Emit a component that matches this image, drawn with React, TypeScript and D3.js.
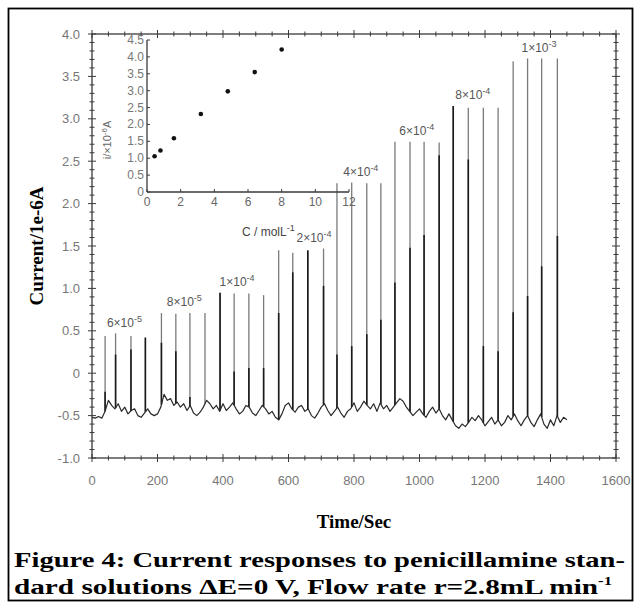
import React from "react";
import * as d3 from "d3";

// ---------- data ----------
const xTickValues = [0, 200, 400, 600, 800, 1000, 1200, 1400, 1600];
const yTickValues = [-1, -0.5, 0, 0.5, 1, 1.5, 2, 2.5, 3, 3.5, 4];
const yTickLabels = ["-1.0", "-0.5", "0", "0.5", "1.0", "1.5", "2.0", "2.5", "3.0", "3.5", "4.0"];

const peakTimes = [40, 72, 119, 163, 212, 256, 299, 345, 391, 434, 479, 524, 570, 613, 659, 707,
  748, 793, 839, 882, 925, 971, 1014, 1060, 1103, 1149, 1195, 1240, 1286, 1330, 1373, 1421];
const peakTops = [0.44, 0.47, 0.44, 0.42, 0.71, 0.70, 0.71, 0.71, 0.95, 0.94, 0.94, 0.92,
  1.45, 1.42, 1.44, 1.47, 2.24, 2.25, 2.24, 2.24, 2.73, 2.73, 2.73, 2.72,
  3.15, 3.13, 3.13, 3.13, 3.68, 3.71, 3.71, 3.71];
const peakShoulders = [-0.22, 0.22, 0.28, 0.42, 0.36, 0.26, -0.28, -0.36, 0.95, 0.02, 0.06, 0.06,
  0.71, 1.19, 1.45, 1.03, 0.22, 0.32, 0.46, 0.63, 1.07, 1.48, 1.63, 2.57,
  3.15, 2.52, 0.32, 0.26, 0.72, 0.91, 1.26, 1.62];

const baselineStart = 0;
const baselineStep = 10;
const baselineValues = [
  -0.52, -0.53, -0.51, -0.53, -0.45, -0.32, -0.38, -0.42, -0.36, -0.45,
  -0.40, -0.48, -0.44, -0.42, -0.50, -0.52, -0.47, -0.42, -0.48, -0.50,
  -0.48, -0.40, -0.25, -0.32, -0.30, -0.38, -0.34, -0.40, -0.36, -0.44,
  -0.38, -0.47, -0.50, -0.46, -0.40, -0.32, -0.36, -0.42, -0.38, -0.45,
  -0.36, -0.44, -0.40, -0.35, -0.42, -0.48, -0.45, -0.38, -0.40, -0.47,
  -0.50, -0.44, -0.38, -0.42, -0.48, -0.45, -0.52, -0.55, -0.48, -0.38,
  -0.35, -0.42, -0.46, -0.40, -0.38, -0.45, -0.42, -0.50, -0.53, -0.47,
  -0.40, -0.36, -0.44, -0.50, -0.45, -0.40, -0.47, -0.52, -0.45, -0.42,
  -0.35, -0.45, -0.40, -0.33, -0.38, -0.42, -0.36, -0.45, -0.35, -0.42,
  -0.38, -0.45, -0.40, -0.35, -0.30, -0.33, -0.40, -0.45, -0.50, -0.46,
  -0.42, -0.48, -0.52, -0.45, -0.40, -0.47, -0.42, -0.50, -0.55, -0.48,
  -0.55, -0.62, -0.65, -0.60, -0.63, -0.58, -0.52, -0.56, -0.50, -0.55,
  -0.62, -0.57, -0.52, -0.60, -0.55, -0.62, -0.58, -0.50, -0.55, -0.48,
  -0.56, -0.62, -0.55, -0.50, -0.58, -0.63, -0.55, -0.48, -0.60, -0.65,
  -0.55, -0.62, -0.50, -0.58, -0.52, -0.55,
];

const groupSize = 4;
const groupLabelBase = ["6×10", "8×10", "1×10", "2×10", "4×10", "6×10", "8×10", "1×10"];
const groupLabelExp = ["-5", "-5", "-4", "-4", "-4", "-4", "-4", "-3"];
const groupLabelTimes = [99, 282, 443, 678, 821, 992, 1163, 1365];

const insetX = [0.45, 0.8, 1.6, 3.2, 4.8, 6.4, 8.0];
const insetY = [1.06, 1.23, 1.59, 2.31, 2.98, 3.55, 4.22];
const insetXTicks = [0, 2, 4, 6, 8, 10, 12];
const insetYTicks = [0, 0.5, 1, 1.5, 2, 2.5, 3, 3.5, 4, 4.5];
const insetYTickLabels = ["0", "0.5", "1.0", "1.5", "2.0", "2.5", "3.0", "3.5", "4.0", "4.5"];

// ---------- component ----------
export default function App() {
  const W = 637, H = 604;
  const x = d3.scaleLinear().domain([0, 1600]).range([92, 616]);
  const y = d3.scaleLinear().domain([-1, 4]).range([458, 34]);
  const ix = d3.scaleLinear().domain([0, 12]).range([147, 349]);
  const iy = d3.scaleLinear().domain([0, 4.5]).range([192, 40]);

  const baseTimes = baselineValues.map((_, i) => baselineStart + i * baselineStep);
  const baseAt = (t: number) => {
    const i = Math.min(Math.max(d3.bisectRight(baseTimes, t) - 1, 0), baseTimes.length - 2);
    const t0 = baseTimes[i], t1 = baseTimes[i + 1];
    const f = (t - t0) / (t1 - t0);
    return baselineValues[i] + f * (baselineValues[i + 1] - baselineValues[i]);
  };

  const basePts: [number, number][] = baseTimes.map((t, i) => [t, baselineValues[i]]);
  const line = d3.line<[number, number]>().x((d) => x(d[0])).y((d) => y(d[1]));

  const xMinor = d3.range(0, 1601, 50);
  const yMinor = d3.range(-1, 4.0001, 0.1);

  const axisColor = "#3a3a3a";
  const tickColor = "#777";
  const sans = "'Liberation Sans', Arial, sans-serif";
  const serif = "'Liberation Serif', 'Times New Roman', serif";

  const groups = groupLabelBase.map((_, g) => {
    const tops = peakTops.slice(g * groupSize, g * groupSize + groupSize);
    return { base: groupLabelBase[g], exp: groupLabelExp[g], t: groupLabelTimes[g], v: (d3.max(tops) as number) + 0.08 };
  });

  return (
    <svg width={W} height={H} style={{ position: "absolute", left: 0, top: 0, background: "#fff" }}>
      <rect x={0} y={0} width={W} height={H} fill="#fff" />
      <rect x={8.5} y={8.5} width={624} height={592} fill="none" stroke="#000" strokeWidth={1.8} />

      {/* main frame */}
      <rect x={x(0)} y={y(4)} width={x(1600) - x(0)} height={y(-1) - y(4)} fill="none" stroke={axisColor} strokeWidth={1.3} />

      {xMinor.map((t) => {
        const major = t % 200 === 0;
        const l = major ? 4 : 2.5;
        return (
          <g key={"xt" + t} stroke={axisColor} strokeWidth={1}>
            <line x1={x(t)} x2={x(t)} y1={y(-1) - l} y2={y(-1) + l} />
            <line x1={x(t)} x2={x(t)} y1={y(4) - l} y2={y(4) + l} />
          </g>
        );
      })}
      {yMinor.map((v, i) => {
        const major = i % 5 === 0;
        const l = major ? 4 : 2.5;
        return (
          <g key={"yt" + i} stroke={axisColor} strokeWidth={1}>
            <line x1={x(0) - l} x2={x(0) + l} y1={y(v)} y2={y(v)} />
            <line x1={x(1600) - l} x2={x(1600) + l} y1={y(v)} y2={y(v)} />
          </g>
        );
      })}

      {xTickValues.map((t) => (
        <text key={"xl" + t} x={x(t)} y={485} textAnchor="middle" fontFamily={sans} fontSize={13} fill={tickColor}>
          {t}
        </text>
      ))}
      {yTickValues.map((v, i) => (
        <text key={"yl" + i} x={80} y={y(v) + 4.5} textAnchor="end" fontFamily={sans} fontSize={13} fill={tickColor}>
          {yTickLabels[i]}
        </text>
      ))}

      {/* trace: spikes (thin grey), baseline (dark), slow return segments (dark) */}
      {peakTimes.map((p, i) => (
        <line key={"sp" + i} x1={x(p)} x2={x(p)} y1={y(baseAt(p))} y2={y(peakTops[i])} stroke="#7a7a7a" strokeWidth={1.3} />
      ))}
      {peakTimes.map((p, i) =>
        peakShoulders[i] > baseAt(p) ? (
          <line key={"sh" + i} x1={x(p)} x2={x(p)} y1={y(baseAt(p))} y2={y(peakShoulders[i])} stroke="#1a1a1a" strokeWidth={1.6} />
        ) : null
      )}
      <path d={line(basePts) || ""} fill="none" stroke="#2a2a2a" strokeWidth={1.2} strokeLinejoin="round" />

      {groups.map((g, i) => (
        <text key={"gl" + i} x={x(g.t)} y={y(g.v)} textAnchor="middle" fontFamily={sans} fontSize={12} fill="#555">
          {g.base}
          <tspan fontSize={9} dy={-5}>{g.exp}</tspan>
        </text>
      ))}

      {/* inset */}
      <g>
        <line x1={ix(0)} x2={ix(12)} y1={iy(0)} y2={iy(0)} stroke={axisColor} strokeWidth={1.3} />
        <line x1={ix(0)} x2={ix(0)} y1={iy(0)} y2={iy(4.5)} stroke={axisColor} strokeWidth={1.3} />
        {insetXTicks.map((t) => (
          <g key={"ixt" + t}>
            <line x1={ix(t)} x2={ix(t)} y1={iy(0)} y2={iy(0) - 3} stroke={axisColor} strokeWidth={1} />
            <text x={ix(t)} y={iy(0) + 14} textAnchor="middle" fontFamily={sans} fontSize={12} fill="#666">{t}</text>
          </g>
        ))}
        {insetYTicks.map((v, i) => (
          <g key={"iyt" + i}>
            <line x1={ix(0)} x2={ix(0) + 3} y1={iy(v)} y2={iy(v)} stroke={axisColor} strokeWidth={1} />
            <text x={ix(0) - 3} y={iy(v) + 4} textAnchor="end" fontFamily={sans} fontSize={12} fill="#777">{insetYTickLabels[i]}</text>
          </g>
        ))}
        {insetX.map((c, i) => (
          <circle key={"ip" + i} cx={ix(c)} cy={iy(insetY[i])} r={2.3} fill="#111" />
        ))}
        <text x={242} y={236} fontFamily={sans} fontSize={12} fill="#444">
          C / molL<tspan fontSize={9} dy={-5}>-1</tspan>
        </text>
        <text transform="translate(111,140) rotate(-90)" textAnchor="middle" fontFamily={sans} fontSize={11} fill="#666">
          i/×10<tspan fontSize={8} dy={-4}>-6</tspan><tspan dy={4}>A</tspan>
        </text>
      </g>

      <text x={354} y={528} textAnchor="middle" fontFamily={serif} fontWeight="bold" fontSize={19} fill="#000">Time/Sec</text>
      <text transform="translate(43,246) rotate(-90)" textAnchor="middle" fontFamily={serif} fontWeight="bold" fontSize={19} fill="#000">Current/1e-6A</text>

      <text x={14} y={567} fontFamily={serif} fontWeight="bold" fontSize={21} fill="#000" textLength={611} lengthAdjust="spacingAndGlyphs">
        Figure 4: Current responses to penicillamine stan-
      </text>
      <text x={14} y={594} fontFamily={serif} fontWeight="bold" fontSize={21} fill="#000" textLength={598} lengthAdjust="spacingAndGlyphs">
        dard solutions ΔE=0 V, Flow rate r=2.8mL min<tspan fontSize={12} dy={-9}>-1</tspan>
      </text>
    </svg>
  );
}
